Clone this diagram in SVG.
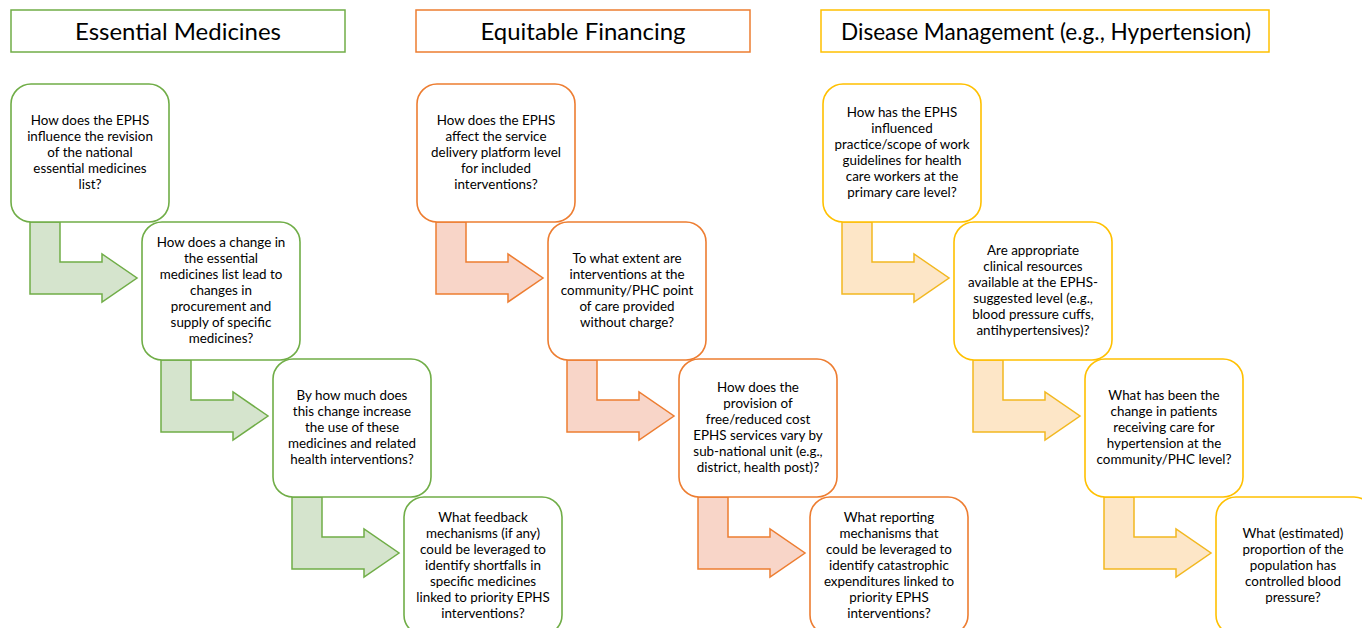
<svg xmlns="http://www.w3.org/2000/svg" width="1362" height="628" viewBox="0 0 1362 628">
<style>
.hdr{fill:#fff;stroke-width:1.5}
.ht{font-family:Lato,"Liberation Sans",sans-serif;font-size:23.5px;fill:#000;text-anchor:middle}
.box{fill:#fff;stroke-width:1.6}
.bt{font-family:Lato,"Liberation Sans",sans-serif;font-size:13.4px;fill:#000;text-anchor:middle}
.g{stroke:#70AD47}.o{stroke:#ED7D31}.y{stroke:#FFC000}
.ga{fill:#D5E4CD;stroke:#70AD47;stroke-width:1.5}
.oa{fill:#F8D5C8;stroke:#ED7D31;stroke-width:1.5}
.ya{fill:#FDE6C7;stroke:#F2B820;stroke-width:1.5}
</style>
<defs>
<path id="arr" d="M19,138 H49 V178 H91 V170 L126,194 L91,218 V210 H19 Z"/>
<rect id="bx" x="0" y="0" width="158" height="138" rx="20" ry="20"/>
</defs>
<rect width="1362" height="628" fill="#fff"/>
<g id="headers">
<g id="h-essential"><rect class="hdr g" x="11" y="10" width="334" height="42"/><text class="ht" x="178" y="40" textLength="206" lengthAdjust="spacingAndGlyphs">Essential Medicines</text></g>
<g id="h-financing"><rect class="hdr o" x="416" y="10" width="334" height="42"/><text class="ht" x="583" y="40" textLength="205" lengthAdjust="spacingAndGlyphs">Equitable Financing</text></g>
<g id="h-disease"><rect class="hdr y" x="821" y="10" width="448" height="42"/><text class="ht" x="1046" y="40" textLength="410" lengthAdjust="spacingAndGlyphs">Disease Management (e.g., Hypertension)</text></g>
</g>
<g id="connectors">
<use href="#arr" class="ga" transform="translate(11,84)"/>
<use href="#arr" class="ga" transform="translate(142,222)"/>
<use href="#arr" class="ga" transform="translate(273,359)"/>
<use href="#arr" class="oa" transform="translate(417,84)"/>
<use href="#arr" class="oa" transform="translate(548,222)"/>
<use href="#arr" class="oa" transform="translate(679,359)"/>
<use href="#arr" class="ya" transform="translate(823,84)"/>
<use href="#arr" class="ya" transform="translate(954,222)"/>
<use href="#arr" class="ya" transform="translate(1085,359)"/>
</g>
<g id="g1" transform="translate(11,84)"><use href="#bx" class="box g"/><text class="bt" x="79"><tspan x="79" y="41">How does the EPHS</tspan><tspan x="79" y="57">influence the revision</tspan><tspan x="79" y="73">of the national</tspan><tspan x="79" y="89">essential medicines</tspan><tspan x="79" y="105">list?</tspan></text></g>
<g id="g2" transform="translate(142,222)"><use href="#bx" class="box g"/><text class="bt"><tspan x="79" y="25">How does a change in</tspan><tspan x="79" y="41">the essential</tspan><tspan x="79" y="57">medicines list lead to</tspan><tspan x="79" y="73">changes in</tspan><tspan x="79" y="89">procurement and</tspan><tspan x="79" y="105">supply of specific</tspan><tspan x="79" y="121">medicines?</tspan></text></g>
<g id="g3" transform="translate(273,359)"><use href="#bx" class="box g"/><text class="bt"><tspan x="79" y="41">By how much does</tspan><tspan x="79" y="57">this change increase</tspan><tspan x="79" y="73">the use of these</tspan><tspan x="79" y="89">medicines and related</tspan><tspan x="79" y="105">health interventions?</tspan></text></g>
<g id="g4" transform="translate(404,497)"><use href="#bx" class="box g"/><text class="bt"><tspan x="79" y="25">What feedback</tspan><tspan x="79" y="41">mechanisms (if any)</tspan><tspan x="79" y="57">could be leveraged to</tspan><tspan x="79" y="73">identify shortfalls in</tspan><tspan x="79" y="89">specific medicines</tspan><tspan x="79" y="105">linked to priority EPHS</tspan><tspan x="79" y="121">interventions?</tspan></text></g>
<g id="o1" transform="translate(417,84)"><use href="#bx" class="box o"/><text class="bt"><tspan x="79" y="41">How does the EPHS</tspan><tspan x="79" y="57">affect the service</tspan><tspan x="79" y="73">delivery platform level</tspan><tspan x="79" y="89">for included</tspan><tspan x="79" y="105">interventions?</tspan></text></g>
<g id="o2" transform="translate(548,222)"><use href="#bx" class="box o"/><text class="bt"><tspan x="79" y="41">To what extent are</tspan><tspan x="79" y="57">interventions at the</tspan><tspan x="79" y="73">community/PHC point</tspan><tspan x="79" y="89">of care provided</tspan><tspan x="79" y="105">without charge?</tspan></text></g>
<g id="o3" transform="translate(679,359)"><use href="#bx" class="box o"/><text class="bt"><tspan x="79" y="33">How does the</tspan><tspan x="79" y="49">provision of</tspan><tspan x="79" y="65">free/reduced cost</tspan><tspan x="79" y="81">EPHS services vary by</tspan><tspan x="79" y="97">sub-national unit (e.g.,</tspan><tspan x="79" y="113">district, health post)?</tspan></text></g>
<g id="o4" transform="translate(810,497)"><use href="#bx" class="box o"/><text class="bt"><tspan x="79" y="25">What reporting</tspan><tspan x="79" y="41">mechanisms that</tspan><tspan x="79" y="57">could be leveraged to</tspan><tspan x="79" y="73">identify catastrophic</tspan><tspan x="79" y="89">expenditures linked to</tspan><tspan x="79" y="105">priority EPHS</tspan><tspan x="79" y="121">interventions?</tspan></text></g>
<g id="y1" transform="translate(823,84)"><use href="#bx" class="box y"/><text class="bt"><tspan x="79" y="33">How has the EPHS</tspan><tspan x="79" y="49">influenced</tspan><tspan x="79" y="65">practice/scope of work</tspan><tspan x="79" y="81">guidelines for health</tspan><tspan x="79" y="97">care workers at the</tspan><tspan x="79" y="113">primary care level?</tspan></text></g>
<g id="y2" transform="translate(954,222)"><use href="#bx" class="box y"/><text class="bt"><tspan x="79" y="33">Are appropriate</tspan><tspan x="79" y="49">clinical resources</tspan><tspan x="79" y="65">available at the EPHS-</tspan><tspan x="79" y="81">suggested level (e.g.,</tspan><tspan x="79" y="97">blood pressure cuffs,</tspan><tspan x="79" y="113">antihypertensives)?</tspan></text></g>
<g id="y3" transform="translate(1085,359)"><use href="#bx" class="box y"/><text class="bt"><tspan x="79" y="41">What has been the</tspan><tspan x="79" y="57">change in patients</tspan><tspan x="79" y="73">receiving care for</tspan><tspan x="79" y="89">hypertension at the</tspan><tspan x="79" y="105">community/PHC level?</tspan></text></g>
<g id="y4" transform="translate(1216,497)"><use href="#bx" class="box y"/><text class="bt"><tspan x="77" y="41">What (estimated)</tspan><tspan x="77" y="57">proportion of the</tspan><tspan x="77" y="73">population has</tspan><tspan x="77" y="89">controlled blood</tspan><tspan x="77" y="105">pressure?</tspan></text></g>
</svg>
